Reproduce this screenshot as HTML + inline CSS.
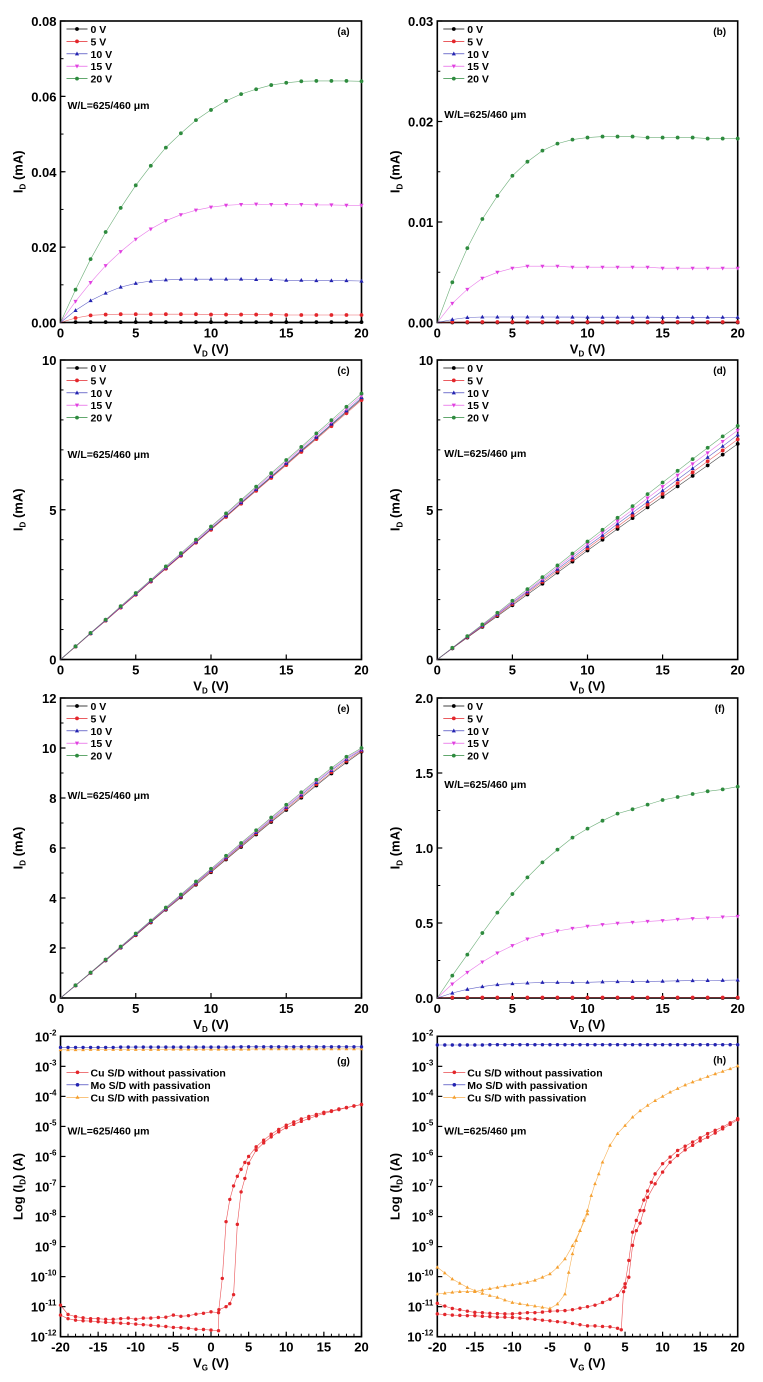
<!DOCTYPE html>
<html><head><meta charset="utf-8"><title>Transistor output and transfer characteristics, panels (a)–(h)</title>
<style>
html,body{margin:0;padding:0;background:#fff;}
svg{display:block;font-family:"Liberation Sans",Arial,sans-serif;}
.tk{font-size:13px;font-weight:bold;fill:#000;}
.ttl{font-size:13px;font-weight:bold;fill:#000;}
.lg{font-size:10.5px;font-weight:bold;fill:#000;}
.pl{font-size:10px;font-weight:bold;fill:#000;}
</style></head>
<body>
<svg id="fig" width="763" height="1382" viewBox="0 0 763 1382" xmlns="http://www.w3.org/2000/svg"></svg>
<script>
// ---------- data ----------
const vd = [0,1,2,3,4,5,6,7,8,9,10,11,12,13,14,15,16,17,18,19,20];
const gateLabels = ["0 V","5 V","10 V","15 V","20 V"];

const a0 = [0,0.0001,0.0001,0.0001,0.0001,0.0001,0.0001,0.0001,0.0001,0.0001,0.0001,0.0001,0.0001,0.0001,0.0001,0.0001,0.0001,0.0001,0.0001,0.0001,0.0001];
const a5 = [0,0.0012,0.0019,0.0021,0.0022,0.0022,0.0022,0.0022,0.0022,0.0022,0.0021,0.0021,0.0021,0.0021,0.0021,0.002,0.002,0.002,0.002,0.002,0.002];
const a10 = [0,0.0032,0.0058,0.0078,0.0094,0.0104,0.011,0.0113,0.0115,0.0115,0.0115,0.0115,0.0115,0.0114,0.0114,0.0112,0.0112,0.0111,0.0111,0.0111,0.011];
const a15 = [0,0.0056,0.0106,0.0151,0.0188,0.0221,0.0248,0.027,0.0286,0.0298,0.0306,0.0311,0.0313,0.0314,0.0313,0.0313,0.0313,0.0312,0.0312,0.0311,0.0311];
const a20 = [0,0.0087,0.0168,0.024,0.0304,0.0364,0.0416,0.0464,0.0502,0.0537,0.0564,0.0588,0.0606,0.0619,0.063,0.0636,0.064,0.0641,0.0641,0.0641,0.064];

const b0 = [0,0,0,0,0,0,0,0,0,0,0,0,0,0,0,0,0,0,0,0,0];
const b5 = [0,0.00005,0.00005,0.00005,0.00005,0.00005,0.00005,0.00005,0.00005,0.00005,0.00005,0.00005,0.00005,0.00005,0.00005,0.00005,0.00005,0.00005,0.00005,0.00005,0.00005];
const b10 = [0,0.0003,0.0005,0.00055,0.00055,0.00055,0.00055,0.00055,0.00054,0.00054,0.00053,0.00053,0.00053,0.00053,0.00053,0.00052,0.00052,0.00052,0.00052,0.00052,0.00052];
const b15 = [0,0.0019,0.0033,0.0044,0.005,0.0054,0.0056,0.0056,0.0056,0.0055,0.0055,0.0055,0.0055,0.0055,0.0055,0.0054,0.0054,0.0054,0.0054,0.0054,0.0054];
const b20 = [0,0.004,0.0074,0.0103,0.0126,0.0146,0.016,0.0171,0.0178,0.0182,0.0184,0.0185,0.0185,0.0185,0.0184,0.0184,0.0184,0.0184,0.0183,0.0183,0.0183];

const c0 = [0,0.43,0.87,1.3,1.74,2.17,2.61,3.04,3.48,3.91,4.35,4.78,5.22,5.65,6.09,6.52,6.96,7.39,7.83,8.26,8.7];
const c5 = [0,0.43,0.87,1.3,1.73,2.16,2.6,3.03,3.46,3.9,4.33,4.76,5.2,5.63,6.06,6.49,6.93,7.36,7.79,8.22,8.66];
const c10 = [0,0.44,0.87,1.31,1.75,2.18,2.62,3.06,3.49,3.93,4.37,4.8,5.24,5.68,6.11,6.55,6.99,7.42,7.86,8.3,8.74];
const c15 = [0,0.44,0.88,1.32,1.76,2.2,2.64,3.08,3.52,3.96,4.41,4.85,5.29,5.73,6.17,6.61,7.05,7.49,7.93,8.37,8.81];
const c20 = [0,0.44,0.89,1.33,1.78,2.22,2.66,3.11,3.55,4.0,4.44,4.88,5.33,5.77,6.22,6.66,7.1,7.55,7.99,8.44,8.88];

const d0 = [0,0.37,0.73,1.09,1.45,1.81,2.17,2.53,2.9,3.27,3.64,4.0,4.36,4.72,5.08,5.43,5.78,6.13,6.48,6.84,7.2];
const d5 = [0,0.375,0.745,1.11,1.48,1.85,2.22,2.59,2.96,3.33,3.71,4.08,4.44,4.81,5.17,5.53,5.89,6.25,6.62,6.98,7.35];
const d10 = [0,0.38,0.76,1.13,1.51,1.89,2.26,2.64,3.02,3.4,3.78,4.15,4.53,4.9,5.27,5.64,6.01,6.38,6.75,7.12,7.5];
const d15 = [0,0.385,0.77,1.15,1.53,1.92,2.3,2.69,3.08,3.47,3.86,4.24,4.62,5.0,5.39,5.77,6.15,6.53,6.9,7.28,7.65];
const d20 = [0,0.39,0.78,1.17,1.56,1.96,2.35,2.75,3.14,3.54,3.94,4.33,4.73,5.12,5.52,5.91,6.3,6.69,7.07,7.45,7.8];

const e0 = [0,0.5,1.0,1.5,2.01,2.51,3.02,3.53,4.02,4.53,5.03,5.54,6.04,6.54,7.04,7.52,8.01,8.5,8.98,9.42,9.85];
const e5 = [0,0.5,1.0,1.51,2.02,2.52,3.04,3.55,4.05,4.56,5.06,5.57,6.08,6.58,7.08,7.57,8.06,8.55,9.03,9.48,9.88];
const e10 = [0,0.5,1.01,1.52,2.03,2.54,3.06,3.57,4.08,4.6,5.1,5.61,6.12,6.62,7.13,7.63,8.12,8.62,9.1,9.55,9.92];
const e15 = [0,0.51,1.01,1.53,2.04,2.56,3.08,3.59,4.11,4.63,5.14,5.65,6.16,6.67,7.18,7.68,8.18,8.68,9.15,9.6,9.96];
const e20 = [0,0.51,1.02,1.54,2.06,2.58,3.1,3.62,4.14,4.66,5.17,5.69,6.2,6.71,7.22,7.73,8.23,8.73,9.2,9.65,10.0];

const f0 = [0,0,0,0,0,0,0,0,0,0,0,0,0,0,0,0,0,0,0,0,0];
const f5 = [0,0.003,0.003,0.003,0.003,0.003,0.003,0.003,0.003,0.003,0.003,0.003,0.003,0.003,0.003,0.003,0.003,0.003,0.003,0.003,0.003];
const f10 = [0,0.033,0.058,0.076,0.089,0.096,0.1,0.104,0.104,0.104,0.105,0.108,0.109,0.11,0.111,0.112,0.115,0.116,0.117,0.118,0.12];
const f15 = [0,0.093,0.171,0.24,0.3,0.349,0.393,0.422,0.447,0.464,0.478,0.489,0.498,0.504,0.511,0.516,0.524,0.529,0.533,0.54,0.544];
const f20 = [0,0.149,0.289,0.433,0.569,0.693,0.804,0.904,0.989,1.069,1.129,1.182,1.229,1.258,1.289,1.32,1.34,1.36,1.378,1.391,1.409];

// transfer curves (log10 of I_D in A)
const vgFull = [-20,-19,-18,-17,-16,-15,-14,-13,-12,-11,-10,-9,-8,-7,-6,-5,-4,-3,-2,-1,0,1,2,3,4,5,6,7,8,9,10,11,12,13,14,15,16,17,18,19,20];
const gMo = [-2.37,-2.37,-2.37,-2.37,-2.37,-2.37,-2.37,-2.37,-2.36,-2.36,-2.36,-2.36,-2.36,-2.36,-2.36,-2.36,-2.36,-2.36,-2.36,-2.36,-2.36,-2.36,-2.36,-2.36,-2.35,-2.35,-2.35,-2.35,-2.35,-2.35,-2.35,-2.35,-2.35,-2.35,-2.35,-2.35,-2.35,-2.35,-2.35,-2.35,-2.35];
const gCuPass = [-2.45,-2.45,-2.45,-2.45,-2.44,-2.44,-2.44,-2.44,-2.44,-2.44,-2.44,-2.44,-2.44,-2.44,-2.43,-2.43,-2.43,-2.43,-2.43,-2.43,-2.43,-2.43,-2.43,-2.43,-2.43,-2.43,-2.42,-2.42,-2.42,-2.42,-2.42,-2.42,-2.42,-2.42,-2.42,-2.42,-2.42,-2.42,-2.42,-2.42,-2.42];
const gRedBx = [-20,-19,-18,-17,-16,-15,-14,-13,-12,-11,-10,-9,-8,-7,-6,-5,-4,-3,-2,-1,0,1,1.5,2,2.5,3,3.5,4,4.5,5,6,7,8,9,10,11,12,13,14,15,16,17,18,19,20];
const gRedBy = [-10.95,-11.26,-11.33,-11.37,-11.4,-11.4,-11.42,-11.42,-11.4,-11.38,-11.42,-11.38,-11.38,-11.36,-11.35,-11.28,-11.32,-11.3,-11.25,-11.22,-11.17,-11.2,-10.06,-8.17,-7.43,-6.98,-6.66,-6.43,-6.2,-6.0,-5.68,-5.46,-5.26,-5.1,-4.96,-4.85,-4.75,-4.67,-4.6,-4.53,-4.48,-4.42,-4.37,-4.32,-4.27];
const gRedAx = [-20,-19,-18,-17,-16,-15,-14,-13,-12,-11,-10,-9,-8,-7,-6,-5,-4,-3,-2,-1,0,1,1.05,2,2.5,3,3.5,4,4.5,5,6,7,8,9,10,11,12,13,14,15,16,17,18,19,20];
const gRedAy = [-11.28,-11.4,-11.45,-11.47,-11.48,-11.5,-11.52,-11.53,-11.55,-11.56,-11.58,-11.6,-11.62,-11.64,-11.66,-11.69,-11.7,-11.72,-11.75,-11.76,-11.78,-11.8,-11.1,-11.0,-10.9,-10.6,-8.26,-7.18,-6.73,-6.23,-5.79,-5.55,-5.35,-5.18,-5.04,-4.93,-4.83,-4.74,-4.65,-4.57,-4.5,-4.44,-4.38,-4.32,-4.27];

const hMo = [-2.29,-2.29,-2.29,-2.29,-2.29,-2.29,-2.29,-2.28,-2.28,-2.28,-2.28,-2.28,-2.28,-2.28,-2.28,-2.28,-2.28,-2.28,-2.28,-2.28,-2.28,-2.28,-2.28,-2.28,-2.28,-2.28,-2.28,-2.28,-2.28,-2.28,-2.28,-2.28,-2.28,-2.28,-2.28,-2.28,-2.28,-2.28,-2.28,-2.28,-2.28];
const hOrFx = [-20,-19,-18,-17,-16,-15,-14,-13,-12,-11,-10,-9,-8,-7,-6,-5,-4,-3,-2.5,-2,-1.5,-1,-0.5,0,0.5,1,1.5,2,3,4,5,6,7,8,9,10,11,12,13,14,15,16,17,18,19,20];
const hOrFy = [-9.69,-9.88,-10.08,-10.22,-10.36,-10.47,-10.56,-10.63,-10.69,-10.78,-10.86,-10.9,-10.94,-10.98,-11.02,-11.06,-10.91,-10.58,-9.86,-9.24,-8.8,-8.47,-8.13,-7.8,-7.3,-6.91,-6.58,-6.19,-5.63,-5.24,-4.97,-4.69,-4.48,-4.3,-4.14,-4.0,-3.86,-3.74,-3.62,-3.52,-3.43,-3.34,-3.25,-3.17,-3.08,-2.99];
const hOrRx = [-20,-19,-18,-17,-16,-15,-14,-13,-12,-11,-10,-9,-8,-7,-6,-5,-4,-3,-2,-1,0];
const hOrRy = [-10.58,-10.55,-10.52,-10.5,-10.5,-10.5,-10.45,-10.4,-10.36,-10.31,-10.27,-10.23,-10.19,-10.12,-10.02,-9.91,-9.69,-9.41,-8.97,-8.47,-7.91];
const hRedUx = [-20,-19,-18,-17,-16,-15,-14,-13,-12,-11,-10,-9,-8,-7,-6,-5,-4,-3,-2,-1,0,1,2,3,4,5,5.5,6,6.5,7,7.5,8,8.5,9,10,11,12,13,14,15,16,17,18,19,20];
const hRedUy = [-10.89,-10.98,-11.06,-11.1,-11.15,-11.19,-11.2,-11.22,-11.23,-11.24,-11.24,-11.22,-11.2,-11.2,-11.18,-11.15,-11.14,-11.13,-11.1,-11.05,-11.0,-10.95,-10.86,-10.75,-10.63,-10.24,-9.46,-8.52,-8.13,-7.8,-7.45,-7.15,-6.86,-6.58,-6.24,-6.02,-5.8,-5.66,-5.52,-5.38,-5.24,-5.13,-5.02,-4.88,-4.74];
const hRedLx = [-20,-19,-18,-17,-16,-15,-14,-13,-12,-11,-10,-9,-8,-7,-6,-5,-4,-3,-2,-1,0,1,2,3,4,4.5,4.8,5,5.5,6,6.5,7,7.5,8,9,10,11,12,13,14,15,16,17,18,19,20];
const hRedLy = [-11.24,-11.26,-11.28,-11.29,-11.3,-11.3,-11.32,-11.33,-11.35,-11.35,-11.36,-11.38,-11.4,-11.42,-11.45,-11.47,-11.5,-11.52,-11.56,-11.6,-11.64,-11.64,-11.66,-11.67,-11.72,-11.77,-10.5,-10.36,-10.02,-8.96,-8.47,-8.22,-7.8,-7.36,-6.91,-6.52,-6.19,-5.97,-5.78,-5.63,-5.48,-5.36,-5.22,-5.08,-4.93,-4.78];

const vdTicks = [0,5,10,15,20];
const vgTicks = [-20,-15,-10,-5,0,5,10,15,20];
const aTicks = ["0.00","0.02","0.04","0.06","0.08"];
const bTicks = ["0.00","0.01","0.02","0.03"];
const cTicks = ["0","5","10"];
const eTicks = ["0","2","4","6","8","10","12"];
const fTicks = ["0.0","0.5","1.0","1.5","2.0"];
const logExps = [-12,-11,-10,-9,-8,-7,-6,-5,-4,-3,-2];

// ---------- drawing ----------
const NS = "http://www.w3.org/2000/svg";
const svg = document.getElementById("fig");
const COL = ["#000000","#e3262b","#2323b0","#e040e0","#2e8b3e"];
const MARK = ["circle","circle","tri","itri","circle"];
function el(tag, attrs, parent){ const e=document.createElementNS(NS,tag); for(const k in attrs) e.setAttribute(k,attrs[k]); (parent||svg).appendChild(e); return e; }
function marker(g, type, x, y, c, s){
  let m;
  if(type==="tri") m = el("path",{d:`M${x} ${y-s*1.2}L${x+s*1.1} ${y+s*0.8}L${x-s*1.1} ${y+s*0.8}Z`,fill:c},g);
  else if(type==="itri") m = el("path",{d:`M${x} ${y+s*1.2}L${x+s*1.1} ${y-s*0.8}L${x-s*1.1} ${y-s*0.8}Z`,fill:c},g);
  else m = el("circle",{cx:x,cy:y,r:s,fill:c},g);
  
  
  return m;
}
function axis(p){
  const g = el("g",{});
  
  
  const sx = v => p.x0 + (v - p.xmin)/(p.xmax - p.xmin)*(p.x1 - p.x0);
  const sy = v => p.y1 - (v - p.ymin)/(p.ymax - p.ymin)*(p.y1 - p.y0);
  p.sx = sx; p.sy = sy; p.g = g;
  const frame = el("rect",{x:p.x0,y:p.y0,width:p.x1-p.x0,height:p.y1-p.y0,fill:"none",stroke:"#000","stroke-width":1.6},g);
  
  
  // x ticks
  p.xticks.forEach(v=>{
    el("line",{x1:sx(v),x2:sx(v),y1:p.y1,y2:p.y1-5,stroke:"#000","stroke-width":1.2},g);
    const t = el("text",{x:sx(v),y:p.y1+15,"text-anchor":"middle",class:"tk"},g); t.textContent = v;
    
    
  });
  for(let v=p.xmin; v<=p.xmax; v+=p.xminor){ el("line",{x1:sx(v),x2:sx(v),y1:p.y1,y2:p.y1-3,stroke:"#000","stroke-width":1},g); }
  // y ticks
  if(p.log){
    logExps.forEach(e=>{
      el("line",{x1:p.x0,x2:p.x0+5,y1:sy(e),y2:sy(e),stroke:"#000","stroke-width":1.2},g);
      const t = el("text",{x:p.x0-4,y:sy(e)+5,"text-anchor":"end",class:"tk"},g);
      
      
      const a = el("tspan",{},t); a.textContent="10";
      const b = el("tspan",{dy:-6,style:"font-size:8px"},t); b.textContent=String(e).replace("-","-");
    });
  } else {
    p.yticks.forEach((lab,i)=>{
      const v = parseFloat(lab);
      el("line",{x1:p.x0,x2:p.x0+5,y1:sy(v),y2:sy(v),stroke:"#000","stroke-width":1.2},g);
      const t = el("text",{x:p.x0-4,y:sy(v)+5,"text-anchor":"end",class:"tk"},g); t.textContent = lab;
      
      
    });
    for(let v=p.ymin; v<=p.ymax+1e-9; v+=p.yminor){ el("line",{x1:p.x0,x2:p.x0+3,y1:sy(v),y2:sy(v),stroke:"#000","stroke-width":1},g); }
  }
  // titles
  const xt = el("text",{x:(p.x0+p.x1)/2,y:p.y1+31,"text-anchor":"middle",class:"ttl"},g);
  
  
  el("tspan",{},xt).textContent="V";
  const xs=el("tspan",{dy:3,style:"font-size:8px"},xt); xs.textContent=p.xsub;
  el("tspan",{dy:-3},xt).textContent=" (V)";
  const yx = p.x0-38, yc=(p.y0+p.y1)/2;
  const yt = el("text",{x:yx,y:yc,"text-anchor":"middle",class:"ttl",transform:`rotate(-90 ${yx} ${yc})`},g);
  
  
  if(p.log){
    el("tspan",{},yt).textContent="Log (I";
    el("tspan",{dy:3,style:"font-size:8px"},yt).textContent="D";
    el("tspan",{dy:-3},yt).textContent=") (A)";
  } else {
    el("tspan",{},yt).textContent="I";
    el("tspan",{dy:3,style:"font-size:8px"},yt).textContent="D";
    el("tspan",{dy:-3},yt).textContent=" (mA)";
  }
  const pl = el("text",{x:p.x1-18,y:p.y0+p.plY,"text-anchor":"middle",class:"pl"},g); pl.textContent="("+p.id+")";
  
  
  const wl = el("text",{x:p.x0+7,y:p.y0+p.wlY,class:"lg"},g); wl.textContent="W/L=625/460 μm";
  
  
  return p;
}
function outputPanel(p, series){
  axis(p);
  series.forEach((ys,k)=>{
    const sg = el("g",{},p.g);
    
    
    const d = ys.map((v,i)=>(i?"L":"M")+p.sx(vd[i]).toFixed(1)+" "+p.sy(v).toFixed(1)).join("");
    el("path",{d:d,fill:"none",stroke:COL[k],"stroke-width":0.6,opacity:0.7},sg);
    ys.forEach((v,i)=>{ if(i>0) marker(sg,MARK[k],p.sx(vd[i]),p.sy(v),COL[k],1.9); });
  });
  // legend
  const lg = el("g",{},p.g);
  
  
  gateLabels.forEach((lab,k)=>{
    const y = p.y0 + 8 + k*12.4;
    const e = el("g",{},lg);
    
    
    el("line",{x1:p.x0+6,x2:p.x0+27,y1:y,y2:y,stroke:COL[k],"stroke-width":0.7},e);
    marker(e,MARK[k],p.x0+16.5,y,COL[k],1.9);
    const t = el("text",{x:p.x0+30,y:y+4,class:"lg"},e); t.textContent = lab;
  });
}
function transferPanel(p, curves){
  axis(p);
  curves.forEach(c=>{
    const sg = el("g",{},p.g);
    
    
    const d = c.y.map((v,i)=>(i?"L":"M")+p.sx(c.x[i]).toFixed(1)+" "+p.sy(v).toFixed(1)).join("");
    el("path",{d:d,fill:"none",stroke:c.col,"stroke-width":0.6,opacity:0.8},sg);
    c.y.forEach((v,i)=>marker(sg,c.m,p.sx(c.x[i]),p.sy(v),c.col,1.7));
  });
  const labs = [["Cu S/D without passivation","#e3262b","circle"],["Mo S/D with passivation","#2323b0","circle"],["Cu S/D with passivation","#f5a030","tri"]];
  const lg = el("g",{},p.g);
  
  
  labs.forEach((l,k)=>{
    const y = p.y0 + 36 + k*12.5;
    const e = el("g",{},lg);
    
    
    el("line",{x1:p.x0+6,x2:p.x0+28,y1:y,y2:y,stroke:l[1],"stroke-width":0.7},e);
    marker(e,l[2],p.x0+17,y,l[1],1.8);
    const t = el("text",{x:p.x0+30,y:y+4,class:"lg"},e); t.textContent = l[0];
  });
}

const L = [60.5,361.5], R = [437.3,737.7];
const rows = [[21,322.5],[360,659.5],[698,998],[1036.3,1336.7]];
function base(id,col,row){ return {id:id,x0:col[0],x1:col[1],y0:rows[row][0],y1:rows[row][1],xmin:0,xmax:20,xticks:vdTicks,xminor:20,xsub:"D",plY:14}; }

outputPanel(Object.assign(base("a",L,0),{ymin:0,ymax:0.08,yticks:aTicks,yminor:0.01,wlY:88}),[a0,a5,a10,a15,a20]);
outputPanel(Object.assign(base("b",R,0),{ymin:0,ymax:0.03,yticks:bTicks,yminor:0.005,wlY:97}),[b0,b5,b10,b15,b20]);
outputPanel(Object.assign(base("c",L,1),{ymin:0,ymax:10,yticks:cTicks,yminor:1,wlY:98}),[c0,c5,c10,c15,c20]);
outputPanel(Object.assign(base("d",R,1),{ymin:0,ymax:10,yticks:cTicks,yminor:1,wlY:97}),[d0,d5,d10,d15,d20]);
outputPanel(Object.assign(base("e",L,2),{ymin:0,ymax:12,yticks:eTicks,yminor:1,wlY:101}),[e0,e5,e10,e15,e20]);
outputPanel(Object.assign(base("f",R,2),{ymin:0,ymax:2,yticks:fTicks,yminor:0.25,wlY:90}),[f0,f5,f10,f15,f20]);

transferPanel(Object.assign(base("g",L,3),{xmin:-20,xmax:20,xticks:vgTicks,xminor:1,xsub:"G",ymin:-12,ymax:-2,log:true,wlY:98,plY:28}),[
  {name:"series-cu-with-passivation",x:vgFull,y:gCuPass,col:"#f5a030",m:"tri"},
  {name:"series-mo-with-passivation",x:vgFull,y:gMo,col:"#2323b0",m:"circle"},
  {name:"series-cu-without-passivation-forward",x:gRedBx,y:gRedBy,col:"#e3262b",m:"circle"},
  {name:"series-cu-without-passivation-reverse",x:gRedAx,y:gRedAy,col:"#e3262b",m:"circle"}
]);
transferPanel(Object.assign(base("h",R,3),{xmin:-20,xmax:20,xticks:vgTicks,xminor:1,xsub:"G",ymin:-12,ymax:-2,log:true,wlY:98,plY:27}),[
  {name:"series-mo-with-passivation",x:vgFull,y:hMo,col:"#2323b0",m:"circle"},
  {name:"series-cu-with-passivation-forward",x:hOrFx,y:hOrFy,col:"#f5a030",m:"tri"},
  {name:"series-cu-with-passivation-reverse",x:hOrRx,y:hOrRy,col:"#f5a030",m:"tri"},
  {name:"series-cu-without-passivation-forward",x:hRedUx,y:hRedUy,col:"#e3262b",m:"circle"},
  {name:"series-cu-without-passivation-reverse",x:hRedLx,y:hRedLy,col:"#e3262b",m:"circle"}
]);
</script>
</body></html>
